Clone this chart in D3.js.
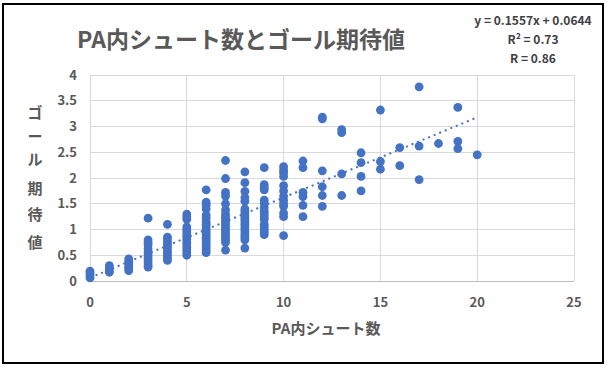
<!DOCTYPE html>
<html><head><meta charset="utf-8">
<script src="https://cdn.jsdelivr.net/npm/d3@7"></script>
<style>body{margin:0;background:#fff;} svg{display:block;}</style>
</head><body>
<script>
const title = "PA内シュート数とゴール期待値";
const xTitle = "PA内シュート数";
const yTitleChars = ["ゴ","ー","ル","期","待","値"];
const eqLines = ["y = 0.1557x + 0.0644", "R² = 0.73", "R = 0.86"];
const slope = 0.1557, intercept = 0.0644;
const xTicks = [0,5,10,15,20,25];
const yTicks = [0,0.5,1,1.5,2,2.5,3,3.5,4];
// goal expectation values per number of shots in PA
const shots = [0,1,2,3,4,5,6,7,8,9,10,11,12,13,14,15,16,17,18,19,20];
const xgValues = [
  [0.19,0.15,0.1,0.06],
  [0.3,0.25,0.2,0.17],
  [0.43,0.38,0.33,0.28,0.24,0.2],
  [1.22,0.8,0.75,0.7,0.62,0.55,0.5,0.45,0.4,0.35,0.3,0.27],
  [1.1,0.85,0.8,0.75,0.7,0.65,0.6,0.55,0.5,0.45,0.4],
  [1.3,1.25,1.2,1.05,1.0,0.95,0.9,0.85,0.8,0.75,0.7,0.65,0.6,0.55,0.5],
  [1.77,1.53,1.47,1.4,1.28,1.22,1.15,1.1,1.05,1.0,0.95,0.9,0.85,0.8,0.75,0.7,0.65,0.6,0.55],
  [2.34,1.99,1.72,1.65,1.5,1.38,1.3,1.25,1.2,1.15,1.1,1.05,1.0,0.95,0.9,0.85,0.8,0.75,0.6],
  [2.12,1.91,1.74,1.62,1.55,1.4,1.35,1.3,1.25,1.2,1.15,1.1,1.05,1.0,0.95,0.9,0.85,0.8,0.64],
  [2.2,1.87,1.82,1.77,1.57,1.5,1.42,1.35,1.3,1.25,1.2,1.1,1.05,1.0,0.95,0.9],
  [2.22,2.15,2.1,2.03,1.85,1.75,1.65,1.57,1.5,1.45,1.32,1.25,0.88],
  [2.33,2.2,1.72,1.64,1.47,1.25],
  [3.18,3.15,2.14,1.83,1.66,1.45],
  [2.94,2.88,2.08,1.66],
  [2.49,2.3,2.03,1.75],
  [3.32,2.32,2.17],
  [2.59,2.24],
  [3.77,2.62,1.97],
  [2.67],
  [3.37,2.71,2.57],
  [2.45]
];

const W = 607, H = 367;
const svg = d3.select("body").append("svg").attr("width", W).attr("height", H);
const font = "'Noto Sans CJK JP', 'Noto Sans', sans-serif";
svg.append("rect").attr("x",3).attr("y",4).attr("width",600).attr("height",359)
  .attr("fill","#fff").attr("stroke","#000").attr("stroke-width",2);

const x = d3.scaleLinear().domain([0,25]).range([90,574]);
const y = d3.scaleLinear().domain([0,4]).range([281,75]);

// gridlines
svg.append("g").selectAll("line").data(yTicks.filter(d=>d>0)).join("line")
  .attr("x1",x(0)).attr("x2",x(25)).attr("y1",d=>y(d)).attr("y2",d=>y(d))
  .attr("stroke","#d9d9d9").attr("stroke-width",1).attr("shape-rendering","crispEdges");
svg.append("g").selectAll("line").data(xTicks).join("line")
  .attr("x1",d=>x(d)).attr("x2",d=>x(d)).attr("y1",y(0)).attr("y2",y(4))
  .attr("stroke","#d9d9d9").attr("stroke-width",1).attr("shape-rendering","crispEdges");
svg.append("line").attr("x1",x(0)).attr("x2",x(25)).attr("y1",y(0)).attr("y2",y(0))
  .attr("stroke","#bfbfbf").attr("stroke-width",1).attr("shape-rendering","crispEdges");

// tick labels
svg.append("g").selectAll("text").data(yTicks).join("text")
  .attr("x",77).attr("y",d=>y(d)).attr("dy","0.35em").attr("text-anchor","end")
  .attr("font-family",font).attr("font-weight","bold").attr("font-size",13)
  .attr("fill","#595959").text(d=>d);
svg.append("g").selectAll("text").data(xTicks).join("text")
  .attr("x",d=>x(d)).attr("y",302).attr("dy","0.35em").attr("text-anchor","middle")
  .attr("font-family",font).attr("font-weight","bold").attr("font-size",13)
  .attr("fill","#595959").text(d=>d);

// points
const pts = [];
shots.forEach((s,i)=>xgValues[i].forEach(v=>pts.push([s,v])));
svg.append("g").selectAll("circle").data(pts).join("circle")
  .attr("cx",d=>x(d[0])).attr("cy",d=>y(d[1])).attr("r",4.4)
  .attr("fill","#4472C4");

// trendline
svg.append("line").attr("x1",x(0)).attr("y1",y(intercept))
  .attr("x2",x(20)).attr("y2",y(slope*20+intercept))
  .attr("stroke","#4472C4").attr("stroke-width",2).attr("stroke-dasharray","2,4");

// title
svg.append("text").attr("x",241).attr("y",40).attr("dy","0.35em").attr("text-anchor","middle")
  .attr("font-family",font).attr("font-weight","bold").attr("font-size",23)
  .attr("fill","#595959").text(title);
// equation
svg.append("g").selectAll("text").data(eqLines).join("text")
  .attr("x",533).attr("y",(d,i)=>21+i*19).attr("dy","0.35em").attr("text-anchor","middle")
  .attr("font-family",font).attr("font-weight","bold").attr("font-size",12)
  .attr("fill","#404040").text(d=>d);
// x title
svg.append("text").attr("x",326).attr("y",329).attr("dy","0.35em").attr("text-anchor","middle")
  .attr("font-family",font).attr("font-weight","bold").attr("font-size",15)
  .attr("fill","#595959").text(xTitle);
// y title
const yCharY = [113,137,160,189,215,243];
svg.append("g").selectAll("text").data(yTitleChars).join("text")
  .attr("x",35).attr("y",(d,i)=>yCharY[i]).attr("dy","0.35em").attr("text-anchor","middle")
  .attr("font-family",font).attr("font-weight","bold").attr("font-size",15)
  .attr("fill","#595959").text(d=>d);
</script>
</body></html>
